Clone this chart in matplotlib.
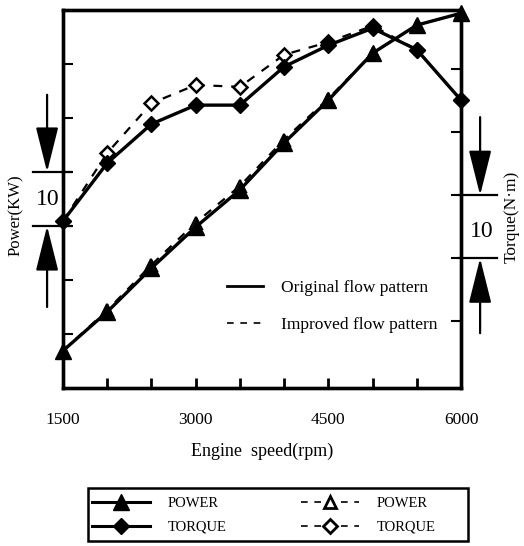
import matplotlib
matplotlib.use("Agg")
import matplotlib.pyplot as plt
from matplotlib.lines import Line2D
from matplotlib.patches import Rectangle
from matplotlib.transforms import blended_transform_factory

plt.rcParams['font.family'] = ['Liberation Serif', 'DejaVu Serif']

# Engine speed (rpm)
speed = [1500, 2000, 2500, 3000, 3500, 4000, 4500, 5000, 5500, 6000]

# Power (KW)
power_original = [6.9, 14.1, 22.2, 29.8, 36.7, 45.4, 53.3, 62.0, 67.2, 69.4]
power_improved = [6.9, 14.4, 22.8, 30.6, 37.4, 46.0, 53.6, 62.0, 67.2, 69.4]

# Torque (N·m)
torque_original = [115.9, 125.1, 131.3, 134.3, 134.3, 140.4, 143.8, 146.5, 143.1, 135.1]
torque_improved = [115.9, 126.7, 134.6, 137.5, 137.2, 142.3, 144.3, 146.9, 143.1, 135.1]

x_ticks = [1500, 2000, 2500, 3000, 3500, 4000, 4500, 5000, 5500, 6000]
x_ticklabels = ['1500', '', '', '3000', '', '', '4500', '', '', '6000']
power_ticks = [10, 20, 30, 40, 50, 60]
torque_ticks = [100, 110, 120, 130, 140]

W, H = 524, 546
fig = plt.figure(figsize=(W / 100, H / 100), dpi=100)
ax = fig.add_axes([63 / W, 1 - 388 / H, 398 / W, 378 / H])
ax2 = ax.twinx()

ax.set_xlim(1500, 6000)
ax.set_ylim(0, 70)
ax2.set_ylim(89.4, 149.4)

# Power curves (left axis)
ax.plot(speed, power_improved, ls=(0, (4, 4)), lw=1.6, color='k',
        marker='^', ms=9, mfc='white', mec='k', mew=1.5, zorder=3)
ax.plot(speed, power_original, ls='-', lw=2.4, color='k',
        marker='^', ms=11, mfc='k', mec='k', zorder=4, clip_on=False)

# Torque curves (right axis)
ax2.plot(speed, torque_improved, ls=(0, (4, 4)), lw=1.6, color='k',
         marker='D', ms=7, mfc='white', mec='k', mew=1.8, zorder=3)
ax2.plot(speed, torque_original, ls='-', lw=2.4, color='k',
         marker='D', ms=8, mfc='k', mec='k', zorder=4, clip_on=False)

for a in (ax, ax2):
    for s in a.spines.values():
        s.set_linewidth(2.4)

ax.set_xticks(x_ticks)
ax.set_xticklabels(x_ticklabels, fontsize=12.5)
ax.tick_params(axis='x', direction='in', length=7, width=2, pad=17)
ax.set_yticks(power_ticks)
ax.set_yticklabels([])
ax.tick_params(axis='y', direction='in', length=7, width=1.5)
ax2.set_yticks(torque_ticks)
ax2.set_yticklabels([])
ax2.tick_params(axis='y', direction='in', length=7, width=1.5)

ax.set_xlabel('Engine  speed(rpm)', fontsize=13, labelpad=11)
fig.text(16 / W, 1 - 215 / H, 'Power(KW)', rotation=90, fontsize=12,
         ha='center', va='center')
fig.text(512 / W, 1 - 217 / H, 'Torque(N·m)', rotation=90, fontsize=12.5,
         ha='center', va='center')

# Scale brackets marking a 10-unit interval on each axis
tl = blended_transform_factory(ax.transAxes, ax.transData)
tr = blended_transform_factory(ax2.transAxes, ax2.transData)
arrow_style = '-|>,head_length=1.4,head_width=0.35'
arrow_props = dict(arrowstyle=arrow_style, color='k', lw=1.6,
                   mutation_scale=20, shrinkA=0, shrinkB=0)

for yv in (30, 40):
    ax.add_line(Line2D([-0.075, 0.02], [yv, yv], transform=tl, color='k',
                       lw=1.6, clip_on=False))
ax.text(-0.038, 35, '10', transform=tl, fontsize=17, ha='center', va='center')
ax.annotate('', xy=(-0.040, 40), xytext=(-0.040, 54.3), xycoords=tl,
            textcoords=tl, arrowprops=arrow_props)
ax.annotate('', xy=(-0.040, 30), xytext=(-0.040, 15.0), xycoords=tl,
            textcoords=tl, arrowprops=arrow_props)

for yv in (110, 120):
    ax2.add_line(Line2D([0.995, 1.09], [yv, yv], transform=tr, color='k',
                        lw=1.6, clip_on=False))
ax2.text(1.053, 114.2, '10', transform=tr, fontsize=17, ha='center', va='center')
ax2.annotate('', xy=(1.048, 120), xytext=(1.048, 132.4), xycoords=tr,
             textcoords=tr, arrowprops=arrow_props)
ax2.annotate('', xy=(1.048, 110), xytext=(1.048, 98.1), xycoords=tr,
             textcoords=tr, arrowprops=arrow_props)

# Line-style key inside the plot
style_handles = [Line2D([], [], color='k', lw=2),
                 Line2D([], [], color='k', lw=1.2, ls=(0, (4, 4)))]
ax2.legend(style_handles, ['Original flow pattern', 'Improved flow pattern'],
           loc='upper left', bbox_to_anchor=(0.412, 0.285), frameon=False,
           fontsize=12.5, handlelength=2.1, handletextpad=1.0,
           labelspacing=1.17, borderpad=0, borderaxespad=0)

# Series key below the plot
h_op = Line2D([], [], color='k', lw=2.2, marker='^', ms=12, mfc='k')
h_ot = Line2D([], [], color='k', lw=2.2, marker='D', ms=8, mfc='k')
h_ip = Line2D([], [], color='k', lw=1.2, ls=(0, (4, 4)), marker='^', ms=9,
              mfc='white', mew=2)
h_it = Line2D([], [], color='k', lw=1.2, ls=(0, (4, 4)), marker='D', ms=7,
              mfc='white', mew=2)
fig.legend([h_op, h_ot, h_ip, h_it], ['POWER', 'TORQUE', 'POWER', 'TORQUE'],
           ncol=2, loc='upper left', bbox_to_anchor=(92 / W, 1 - 497 / H),
           fontsize=10.5, frameon=False,
           handlelength=4.0, handletextpad=1.2, columnspacing=5.1,
           labelspacing=0.7, borderpad=0, borderaxespad=0)
fig.add_artist(Rectangle((88 / W, 1 - 541 / H), 380 / W, 53 / H,
                         transform=fig.transFigure, fill=False,
                         edgecolor='k', lw=1.8))

fig.savefig('out.png', dpi=100)
